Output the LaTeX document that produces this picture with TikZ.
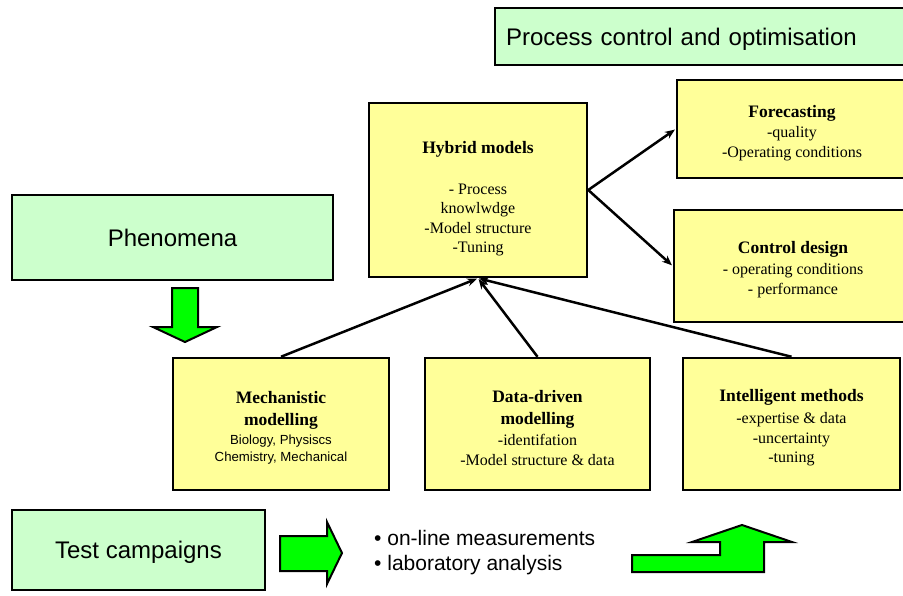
\documentclass[tikz,border=0pt]{standalone}
\usepackage{fontspec}
\setmainfont{Liberation Serif}
\setsansfont{Liberation Sans}
\usetikzlibrary{shapes,arrows.meta}
\usetikzlibrary{positioning}
\definecolor{boxgreen}{HTML}{CCFFCC}
\definecolor{boxyellow}{HTML}{FFFF99}
\definecolor{arrowgreen}{HTML}{00FF00}
\tikzset{green box/.style={rectangle,fill=boxgreen,draw,line width=2pt,inner sep=0pt,
    font=\sffamily\fontsize{24}{28}\selectfont},
  yellow box/.style={rectangle,fill=boxyellow,draw,line width=2.5pt,inner sep=0pt,
    align=center,font=\fontsize{16}{19.5}\selectfont},
  block arrow/.style={fill=arrowgreen,draw,line width=2pt,line join=miter}}
\newcommand{\boxtitle}[1]{{\bfseries\fontsize{17.5}{22}\selectfont #1}}
\newcommand{\boxsans}[1]{{\sffamily\fontsize{13.2}{16}\selectfont #1}}
\newcommand{\topgap}[1]{\mbox{}\\[#1]}

\begin{document}
\begin{tikzpicture}[x=1pt,y=-1pt,shorten >=1pt,
        black arrow/.style={-{Stealth[length=10pt,width=8pt]},line width=2.5pt}]
    \useasboundingbox (0,0) rectangle (903,595);
    % green boxes
    \node[green box,anchor=west,minimum height=57pt,text width=400pt,inner xsep=11pt,
        align=left,text depth=0pt] (control) at (494,36.5) {Process control and optimisation};
    \node[green box,minimum width=321pt,minimum height=85pt] (phen) at (172.5,237.5) {Phenomena};
    \node[green box,minimum width=253pt,minimum height=80pt,text depth=1pt] (test) at (138.5,550)
        {Test campaigns};
    % yellow boxes
    \node[yellow box,minimum width=218pt,minimum height=174pt] (hybrid) at (478,190)
        {\topgap{10.5pt}\boxtitle{Hybrid models}\\[21pt] - Process\\ knowlwdge\\ -Model structure\\ -Tuning};
    \node[yellow box,minimum width=230pt,minimum height=98pt] (forecast) at (792,129)
        {\topgap{0.5pt}\boxtitle{Forecasting}\\[0.5pt] -quality\\[0.5pt] -Operating conditions};
    \node[yellow box,minimum width=238pt,minimum height=112pt] (design) at (793,266)
        {\topgap{-1pt}\boxtitle{Control design}\\[2pt] - operating conditions\\ - performance};
    \node[yellow box,minimum width=216pt,minimum height=132pt] (mech) at (281,424)
        {\topgap{0.5pt}\boxtitle{Mechanistic}\\[2.5pt] \boxtitle{modelling}\\[-1pt]
         \boxsans{Biology, Physiscs}\\[-2pt] \boxsans{Chemistry, Mechanical}};
    \node[yellow box,minimum width=225pt,minimum height=132pt] (data) at (537.5,424)
        {\topgap{1.5pt}\boxtitle{Data-driven}\\[2.5pt] \boxtitle{modelling}\\[1pt] -identifation\\[1pt]
         -Model structure \& data};
    \node[yellow box,minimum width=217pt,minimum height=132pt] (intel) at (791.5,424)
        {\topgap{0.5pt}\boxtitle{Intelligent methods}\\[2.5pt] -expertise \& data\\ -uncertainty\\ -tuning};
    \node[anchor=west,inner sep=0pt,align=left,font=\sffamily\fontsize{21}{25}\selectfont]
        (meas) at (374,553) {• on-line measurements\\ • laboratory analysis};

    \path[black arrow]
    (mech.north) edge (hybrid.south)
    (data.north) edge (hybrid.south)
    (intel.north) edge (hybrid.south)
    (hybrid.east) edge (forecast.west)
    (hybrid.east) edge (design.west);

    % green block arrows
    \draw[block arrow] (172,288) -- (198,288) -- (198,327) -- (217,327) -- (185,342)
        -- (153,327) -- (172,327) -- cycle;
    \draw[block arrow] (280,536) -- (327,536) -- (327,522) -- (342,553) -- (327,584)
        -- (327,571) -- (280,571) -- cycle;
    \draw[block arrow] (632,555) -- (720,555) -- (720,542) -- (692,542) -- (742,525)
        -- (792,542) -- (764,542) -- (764,572) -- (632,572) -- cycle;
\end{tikzpicture}
\end{document}
